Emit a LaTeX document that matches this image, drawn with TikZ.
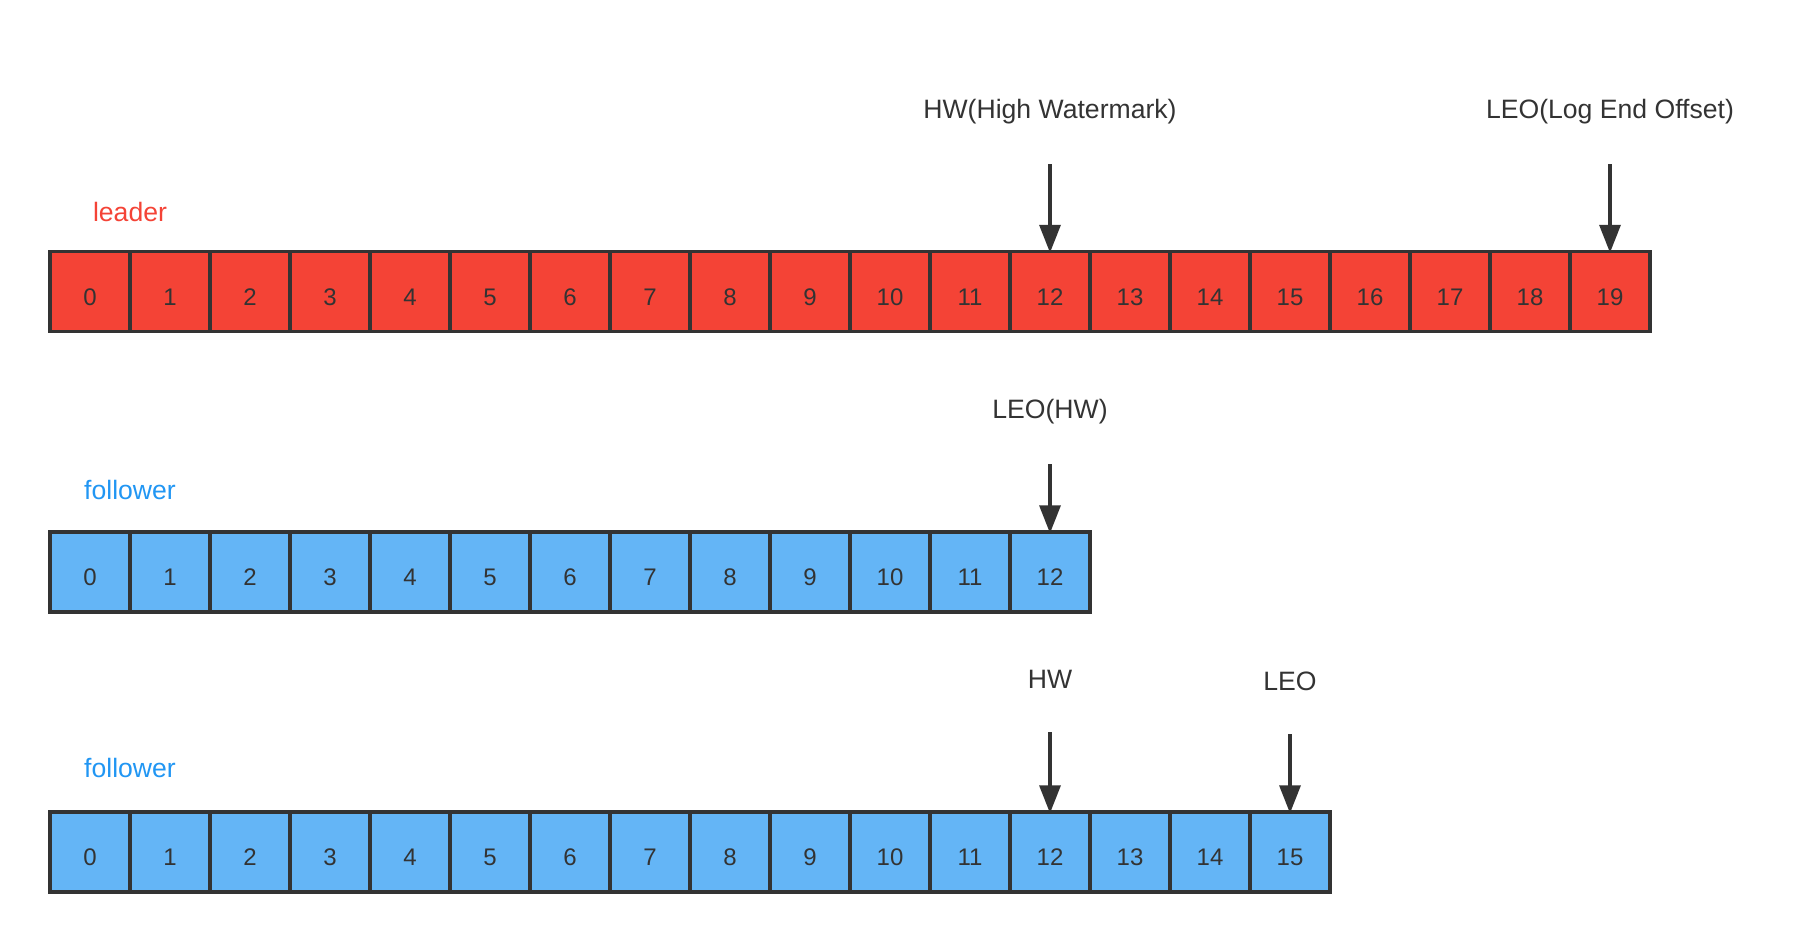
\documentclass[tikz,border=0pt]{standalone}
\usepackage{fontspec}
\setmainfont{Liberation Sans}
\usetikzlibrary{arrows.meta}

\definecolor{leadred}{HTML}{F44336}
\definecolor{folblue}{HTML}{64B5F6}
\definecolor{tagblue}{HTML}{2196F3}
\definecolor{inkgray}{HTML}{333333}

\begin{document}
\begin{tikzpicture}[x=0.5pt,y=-0.5pt,
	cell/.style={minimum size=40pt, inner sep=0pt, draw=inkgray, line width=1.75pt,
		text=inkgray, text height=13.6pt, text depth=0pt, font=\fontsize{12}{14}\selectfont},
	tag/.style={text=inkgray, inner sep=0pt, font=\fontsize{13.3}{15}\selectfont},
	pointer/.style={draw=inkgray, line width=1.75pt, shorten >=-1.5pt,
		-{Triangle[width=10.5pt,length=14pt]}}]
		\useasboundingbox (0,0) rectangle (1815,942);

		% leader log
		\draw (130,212) node[tag, text=leadred] (leadtag) {leader};
		\foreach \i in {0,...,19}
			\draw (90+80*\i,291.5) node[cell, fill=leadred] (lead\i) {\i};

		% first follower
		\draw (130,490) node[tag, text=tagblue] (folatag) {follower};
		\foreach \i in {0,...,12}
			\draw (90+80*\i,572) node[cell, fill=folblue] (fola\i) {\i};

		% second follower
		\draw (130,768) node[tag, text=tagblue] (folbtag) {follower};
		\foreach \i in {0,...,15}
			\draw (90+80*\i,852) node[cell, fill=folblue] (folb\i) {\i};

		% markers
		\draw (1050,112) node[tag] (hwtag) {HW(High Watermark)};
		\draw (1610,112) node[tag] (leotag) {LEO(Log End Offset)};
		\draw (1050,412) node[tag] (folaleotag) {LEO(HW)};
		\draw (1050,679) node[tag] (folbhwtag) {HW};
		\draw (1290,681) node[tag] (folbleotag) {LEO};

		\coordinate (hwtop) at (1050,164);
		\coordinate (leotop) at (1610,164);
		\coordinate (folaleotop) at (1050,464);
		\coordinate (folbhwtop) at (1050,732);
		\coordinate (folbleotop) at (1290,734);

		\draw [pointer] (hwtop) -- (lead12.north);
		\draw [pointer] (leotop) -- (lead19.north);
		\draw [pointer] (folaleotop) -- (fola12.north);
		\draw [pointer] (folbhwtop) -- (folb12.north);
		\draw [pointer] (folbleotop) -- (folb15.north);
	\end{tikzpicture}
\end{document}
